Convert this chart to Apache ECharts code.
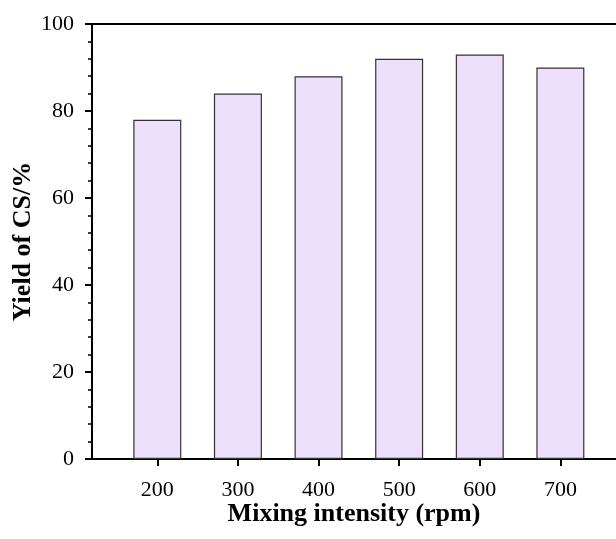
<!DOCTYPE html>
<html>
	<head>
		<meta charset="utf-8">
		<title>ECharts</title>
		<script src="https://cdn.jsdelivr.net/npm/echarts@6/dist/echarts.min.js"></script>
	</head>
	<body style="margin:0">
		<div id="main" style="width: 616px;height:539px;"></div>
		<script type="text/javascript">
			// mixing intensity (rpm) and yield of CS (%)
			var speeds = [200, 300, 400, 500, 600, 700];
			var yields = [78, 84, 88, 92, 93, 90];

			var barData = [];
			for (var i in speeds) {
				barData.push([speeds[i], yields[i]]);
			}

			var font = 'Liberation Serif, Times New Roman, serif';
			var myChart = echarts.init(document.getElementById('main'));
			var option = {
				animation: false,
				grid: {
					left: 92,
					top: 24,
					right: 0,
					bottom: 80,
					containLabel: false,
					outerBoundsMode: 'none'
				},
				xAxis: [{
					type: 'value',
					min: 119,
					max: 769,
					name: 'Mixing intensity (rpm)',
					nameLocation: 'middle',
					nameGap: 42,
					nameMoveOverlap: false,
					nameTextStyle: {
						fontFamily: font,
						fontWeight: 'bold',
						fontSize: 26,
						color: '#000'
					},
					splitLine: { show: false },
					axisLine: { lineStyle: { color: '#000', width: 2 } },
					axisTick: {
						customValues: speeds,
						length: 7,
						lineStyle: { color: '#000', width: 2 }
					},
					axisLabel: {
						customValues: speeds,
						margin: 20,
						fontFamily: font,
						fontSize: 22,
						color: '#000'
					}
				}, {
					// top frame line only
					type: 'value',
					position: 'top',
					min: 119,
					max: 769,
					splitLine: { show: false },
					axisLine: { show: true, lineStyle: { color: '#000', width: 2 } },
					axisTick: { show: false },
					axisLabel: { show: false }
				}],
				yAxis: {
					type: 'value',
					min: 0,
					max: 100,
					interval: 20,
					name: 'Yield of CS/%',
					nameLocation: 'middle',
					nameGap: 56,
					nameMoveOverlap: false,
					nameTextStyle: {
						fontFamily: font,
						fontWeight: 'bold',
						fontSize: 26,
						color: '#000'
					},
					splitLine: { show: false },
					axisLine: { lineStyle: { color: '#000', width: 2 } },
					axisTick: {
						length: 7,
						lineStyle: { color: '#000', width: 2 }
					},
					minorTick: {
						show: true,
						splitNumber: 5,
						length: 4,
						lineStyle: { color: '#000', width: 1.5 }
					},
					axisLabel: {
						margin: 18,
						fontFamily: font,
						fontSize: 22,
						color: '#000'
					}
				},
				series: [{
					type: 'bar',
					barWidth: 48,
					data: barData,
					itemStyle: {
						color: '#ECE0FC',
						borderColor: '#333',
						borderWidth: 1.2
					}
				}]
			};
			myChart.setOption(option);
		</script>
	</body>
</html>
